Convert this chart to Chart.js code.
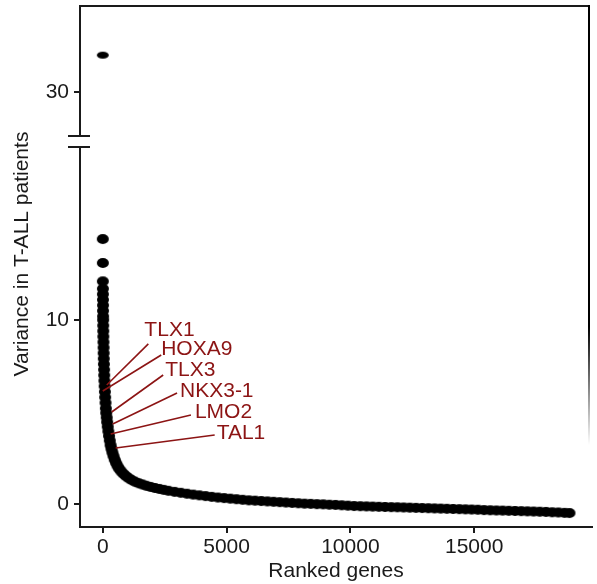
<!DOCTYPE html>
<html>
<head>
<meta charset="utf-8">
<title>Ranked gene variance</title>
<script src="https://cdn.jsdelivr.net/npm/chart.js@4.4.1/dist/chart.umd.min.js"></script>
<style>
  html, body { margin: 0; padding: 0; background: #fff; }
  canvas { display: block; }
</style>
</head>
<body>
<canvas id="varianceChart" width="597" height="584"></canvas>
<script>
// genes ranked by variance across T-ALL patients
const geneRank = [
  1, 2, 3, 4, 5, 7, 9, 11, 13, 15, 18, 21, 24, 28, 32, 36, 41, 46, 52, 59,
  67, 76, 86, 97, 110, 125, 140, 158, 178, 200, 225, 252, 282, 315, 350, 390, 435, 485, 540, 600,
  670, 750, 840, 940, 1050, 1170, 1300, 1450, 1600, 1760, 1930, 2100, 2280, 2460, 2650, 2900, 3150, 3400, 3650, 3900,
  4150, 4400, 4650, 4900, 5150, 5400, 5650, 5900, 6150, 6400, 6650, 6900, 7150, 7400, 7650, 7900, 8150, 8400, 8650, 8900,
  9150, 9400, 9650, 9900, 10150, 10400, 10650, 10900, 11150, 11400, 11650, 11900, 12150, 12400, 12650, 12900, 13150, 13400, 13650, 13900,
  14150, 14400, 14650, 14900, 15150, 15400, 15650, 15900, 16150, 16400, 16650, 16900, 17150, 17400, 17650, 17900, 18150, 18400, 18650, 18850
];
const geneVariance = [
  14.4, 13.1, 12.1, 11.7, 11.4, 11.1, 10.8, 10.5, 10.2, 10.0, 9.7, 9.4, 9.1, 8.8, 8.5, 8.2, 7.9, 7.6, 7.3, 7.0,
  6.7, 6.4, 6.1, 5.8, 5.5, 5.2, 4.95, 4.7, 4.45, 4.2, 3.95, 3.7, 3.45, 3.2, 3.0, 2.8, 2.6, 2.4, 2.22, 2.05,
  1.9, 1.76, 1.63, 1.51, 1.4, 1.3, 1.21, 1.13, 1.06, 0.99, 0.93, 0.87, 0.82, 0.77, 0.72, 0.66, 0.61, 0.56, 0.51, 0.47,
  0.43, 0.39, 0.35, 0.32, 0.29, 0.26, 0.23, 0.2, 0.18, 0.16, 0.14, 0.12, 0.1, 0.08, 0.06, 0.04, 0.02, 0.01, -0.01, -0.02,
  -0.04, -0.05, -0.07, -0.09, -0.11, -0.12, -0.13, -0.14, -0.15, -0.16, -0.17, -0.18, -0.19, -0.2, -0.21, -0.22, -0.23, -0.24, -0.25, -0.26,
  -0.27, -0.28, -0.29, -0.3, -0.31, -0.33, -0.34, -0.35, -0.36, -0.37, -0.38, -0.39, -0.4, -0.41, -0.42, -0.43, -0.45, -0.46, -0.48, -0.49
];
// the one gene above the axis break
const outlierRank = [1];
const outlierVariance = [32];

const xTicks = [0, 5000, 10000, 15000];
const lowTicks = [0, 10];
const highTicks = [30];

// labelled genes: where the name sits and where its leader line ends
const markerNames = ['TLX1', 'HOXA9', 'TLX3', 'NKX3-1', 'LMO2', 'TAL1'];
const markerTextRank = [1680, 2360, 2520, 3120, 3720, 4600];
const markerTextVariance = [9.46, 8.42, 7.28, 6.14, 5.0, 3.86];
const markerLineRank = [1840, 2360, 2440, 3000, 3560, 4520];
const markerLineVariance = [8.70, 8.10, 7.01, 6.03, 4.84, 3.75];
const markerGeneRank = [160, 0, 360, 400, 320, 520];
const markerGeneVariance = [6.47, 6.14, 5.0, 4.35, 3.80, 3.04];

const FONT = "'Liberation Sans', Arial, sans-serif";
const INK = '#1a1a1a';
const MARKER_RED = '#8c1414';

function ellipseDot(w, h) {
    const c = document.createElement('canvas');
    c.width = w + 2;
    c.height = h + 2;
    const g = c.getContext('2d');
    g.fillStyle = '#000';
    g.beginPath();
    g.ellipse(c.width / 2, c.height / 2, w / 2, h / 2, 0, 0, Math.PI * 2);
    g.fill();
    return c;
}

const framePlugin = {
    id: 'frame',
    afterDraw(chart) {
        const ctx = chart.ctx;
        const area = chart.chartArea;
        const x = chart.scales.x;
        const yLow = chart.scales.y;
        const yHigh = chart.scales.yHigh;
        const breakY = yHigh.bottom;

        ctx.save();
        // gap in the left axis with the break marks
        ctx.fillStyle = '#fff';
        ctx.fillRect(area.left - 3, breakY - 5, 6, 10);
        ctx.strokeStyle = INK;
        ctx.lineWidth = 2;
        ctx.beginPath();
        ctx.moveTo(area.left - 12, breakY - 5.5);
        ctx.lineTo(area.left + 10, breakY - 5.5);
        ctx.moveTo(area.left - 12, breakY + 5.5);
        ctx.lineTo(area.left + 10, breakY + 5.5);
        ctx.stroke();

        // top edge of the frame
        ctx.beginPath();
        ctx.moveTo(area.left - 1, area.top);
        ctx.lineTo(area.right - 2, area.top);
        ctx.stroke();

        // right edge, fading out towards the bottom
        const grad = ctx.createLinearGradient(0, area.top, 0, 445);
        grad.addColorStop(0, 'rgba(0,0,0,1)');
        grad.addColorStop(0.73, 'rgba(0,0,0,1)');
        grad.addColorStop(1, 'rgba(0,0,0,0)');
        ctx.strokeStyle = grad;
        ctx.beginPath();
        ctx.moveTo(area.right - 3, area.top - 1);
        ctx.lineTo(area.right - 3, 445);
        ctx.stroke();

        // y axis title spans both segments
        ctx.fillStyle = INK;
        ctx.font = '21px ' + FONT;
        ctx.textAlign = 'center';
        ctx.textBaseline = 'middle';
        ctx.translate(22, 254);
        ctx.rotate(-Math.PI / 2);
        ctx.fillText('Variance in T-ALL patients', 0, 0);
        ctx.restore();

        // gene name annotations
        ctx.save();
        ctx.strokeStyle = MARKER_RED;
        ctx.fillStyle = MARKER_RED;
        ctx.lineWidth = 1.6;
        ctx.font = '21px ' + FONT;
        ctx.textAlign = 'left';
        ctx.textBaseline = 'middle';
        markerNames.forEach((name, i) => {
            ctx.beginPath();
            ctx.moveTo(x.getPixelForValue(markerLineRank[i]), yLow.getPixelForValue(markerLineVariance[i]));
            ctx.lineTo(x.getPixelForValue(markerGeneRank[i]), yLow.getPixelForValue(markerGeneVariance[i]));
            ctx.stroke();
            ctx.fillText(name, x.getPixelForValue(markerTextRank[i]), yLow.getPixelForValue(markerTextVariance[i]));
        });
        ctx.restore();
    }
};

function fixedTicks(values) {
    return function (scale) {
        scale.ticks = values.map(v => ({value: v}));
    };
}

// keep tick labels from pushing the plot area inwards
function fitWidth(w) {
    return function (s) {
        s.width = w;
        s.paddingTop = 0;
        s.paddingBottom = 0;
    };
}

function fitHeight(h) {
    return function (s) {
        s.height = h;
        s.paddingLeft = 0;
        s.paddingRight = 0;
    };
}

const tickFont = {size: 21, family: FONT};
const plainLabel = v => String(v);

function InitVarianceChart() {
    const ctx = document.getElementById('varianceChart').getContext('2d');
    new Chart(ctx, {
        type: 'scatter',
        data: {
            datasets: [
                {
                    label: 'genes',
                    data: geneRank.map((r, i) => ({x: r, y: geneVariance[i]})),
                    yAxisID: 'y',
                    pointStyle: ellipseDot(12, 10),
                    pointRadius: 5,
                    backgroundColor: '#000',
                    borderWidth: 0
                },
                {
                    label: 'outlier',
                    data: outlierRank.map((r, i) => ({x: r, y: outlierVariance[i]})),
                    yAxisID: 'yHigh',
                    pointStyle: ellipseDot(12, 7),
                    pointRadius: 5,
                    backgroundColor: '#000',
                    borderWidth: 0
                }
            ]
        },
        options: {
            responsive: false,
            animation: false,
            events: [],
            layout: {padding: {top: 6, right: 0, bottom: 0, left: 0}},
            plugins: {
                legend: {display: false},
                tooltip: {enabled: false}
            },
            scales: {
                x: {
                    type: 'linear',
                    min: -920,
                    max: 19760,
                    afterBuildTicks: fixedTicks(xTicks),
                    afterFit: fitHeight(57),
                    border: {display: true, color: INK, width: 2},
                    grid: {display: true, drawOnChartArea: false, drawTicks: true, tickLength: 6, color: INK, lineWidth: 2},
                    ticks: {color: INK, font: tickFont, padding: 2, maxRotation: 0, callback: plainLabel},
                    title: {display: true, text: 'Ranked genes', color: INK, font: {size: 21, family: FONT}, padding: {top: 0, bottom: 0}}
                },
                yHigh: {
                    type: 'linear',
                    position: 'left',
                    stack: 'variance',
                    stackWeight: 135.5,
                    weight: 2,
                    min: 27.31,
                    max: 34.67,
                    afterBuildTicks: fixedTicks(highTicks),
                    afterFit: fitWidth(80),
                    border: {display: true, color: INK, width: 2},
                    grid: {display: true, drawOnChartArea: false, drawTicks: true, tickLength: 6, color: INK, lineWidth: 2},
                    ticks: {color: INK, font: tickFont, padding: 5, callback: plainLabel}
                },
                y: {
                    type: 'linear',
                    position: 'left',
                    stack: 'variance',
                    stackWeight: 385.5,
                    weight: 1,
                    min: -1.25,
                    max: 19.70,
                    afterBuildTicks: fixedTicks(lowTicks),
                    afterFit: fitWidth(80),
                    border: {display: true, color: INK, width: 2},
                    grid: {display: true, drawOnChartArea: false, drawTicks: true, tickLength: 6, color: INK, lineWidth: 2},
                    ticks: {color: INK, font: tickFont, padding: 5, callback: plainLabel}
                }
            }
        },
        plugins: [framePlugin]
    });
}

InitVarianceChart();
</script>
</body>
</html>
